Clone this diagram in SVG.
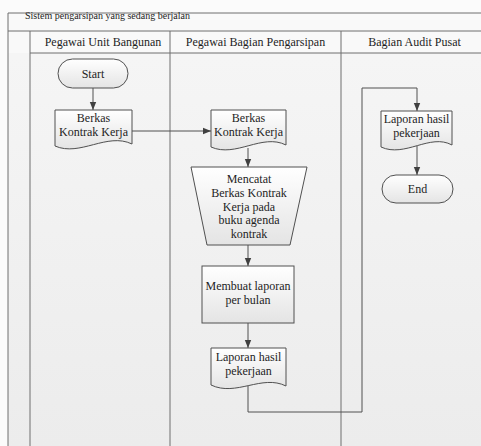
<svg xmlns="http://www.w3.org/2000/svg" width="481" height="446" viewBox="0 0 481 446">
<defs>
<linearGradient id="nodeFill" x1="0" y1="0" x2="0" y2="1">
<stop offset="0" stop-color="#ffffff"/>
<stop offset="1" stop-color="#e4e4e4"/>
</linearGradient>
<linearGradient id="bgFill" x1="0" y1="0" x2="0" y2="1">
<stop offset="0" stop-color="#f6f6f6"/>
<stop offset="1" stop-color="#ececec"/>
</linearGradient>
<marker id="arrow" viewBox="0 0 8 8" refX="8" refY="4" markerWidth="8" markerHeight="8" markerUnits="userSpaceOnUse" orient="auto">
<path d="M0,0.8 L8,4 L0,7.2 Z" fill="#404040"/>
</marker>
</defs>
<style>
.lane{stroke:#6e6e6e;stroke-width:1;fill:none}
.node{fill:url(#nodeFill);stroke:#505050;stroke-width:1}
.conn{fill:none;stroke:#505050;stroke-width:1}
text{font-family:'Liberation Serif','DejaVu Serif',serif;fill:#1e1e1e}
.t{font-size:12px;text-anchor:middle}
.hdr{font-size:12px;text-anchor:middle}
.title{font-size:10px}
</style>
<rect x="0" y="0" width="481" height="446" fill="#fbfbfb"/>
<rect x="8" y="13" width="473" height="433" fill="url(#bgFill)"/>
<rect x="8" y="13" width="473" height="40" fill="#f9f9f9"/>
<g id="pool">
<line class="lane" x1="8" y1="13" x2="481" y2="13"/>
<line class="lane" x1="8" y1="31" x2="481" y2="31"/>
<line class="lane" x1="30" y1="53" x2="481" y2="53"/>
<line class="lane" x1="8" y1="13" x2="8" y2="446"/>
<line class="lane" x1="30" y1="31" x2="30" y2="446"/>
<line class="lane" x1="170" y1="31" x2="170" y2="446"/>
<line class="lane" x1="341" y1="31" x2="341" y2="446"/>
<text class="title" x="25" y="19">Sistem pengarsipan yang sedang berjalan</text>
<text class="hdr" x="103" y="46">Pegawai Unit Bangunan</text>
<text class="hdr" x="255.5" y="46">Pegawai Bagian Pengarsipan</text>
<text class="hdr" x="414.5" y="46">Bagian Audit Pusat</text>
</g>
<g id="connectors">
<path class="conn" d="M93,88 V110" marker-end="url(#arrow)"/>
<path class="conn" d="M132,131 H211" marker-end="url(#arrow)"/>
<path class="conn" d="M248,148 V167" marker-end="url(#arrow)"/>
<path class="conn" d="M248,245 V266" marker-end="url(#arrow)"/>
<path class="conn" d="M248,323 V348" marker-end="url(#arrow)"/>
<path class="conn" d="M248,386 V412 H362 V88 H417 V111" marker-end="url(#arrow)"/>
<path class="conn" d="M417,146 V175" marker-end="url(#arrow)"/>
</g>
<g id="start">
<rect class="node" x="58" y="59" width="70" height="29" rx="14.5" ry="14.5"/>
<text class="t" x="93" y="78">Start</text>
</g>
<g id="doc1">
<path class="node" d="M55,110 H132 V144 C107,132 80,157 55,146 Z"/>
<text class="t" x="93.5" y="122">Berkas</text>
<text class="t" x="93.5" y="136">Kontrak Kerja</text>
</g>
<g id="doc2">
<path class="node" d="M211,110 H286 V145 C262,133 236,158 211,147 Z"/>
<text class="t" x="248.5" y="122">Berkas</text>
<text class="t" x="248.5" y="136">Kontrak Kerja</text>
</g>
<g id="mencatat">
<path class="node" d="M191,167 H307 L290,245 H207 Z"/>
<text class="t" x="249" y="183">Mencatat</text>
<text class="t" x="249" y="197">Berkas Kontrak</text>
<text class="t" x="249" y="211">Kerja pada</text>
<text class="t" x="249" y="224">buku agenda</text>
<text class="t" x="249" y="238">kontrak</text>
</g>
<g id="membuat">
<rect class="node" x="202" y="266" width="92" height="57"/>
<text class="t" x="248" y="290">Membuat laporan</text>
<text class="t" x="248" y="304">per bulan</text>
</g>
<g id="doc3">
<path class="node" d="M211,348 H286 V386 C262,374 236,397 211,385 Z"/>
<text class="t" x="248.5" y="361">Laporan hasil</text>
<text class="t" x="248.5" y="375">pekerjaan</text>
</g>
<g id="doc4">
<path class="node" d="M381,111 H452 V145 C430,133 405,158 381,147 Z"/>
<text class="t" x="416.5" y="123">Laporan hasil</text>
<text class="t" x="416.5" y="137">pekerjaan</text>
</g>
<g id="end">
<rect class="node" x="382" y="175" width="71" height="28" rx="14" ry="14"/>
<text class="t" x="417.5" y="193">End</text>
</g>
</svg>
